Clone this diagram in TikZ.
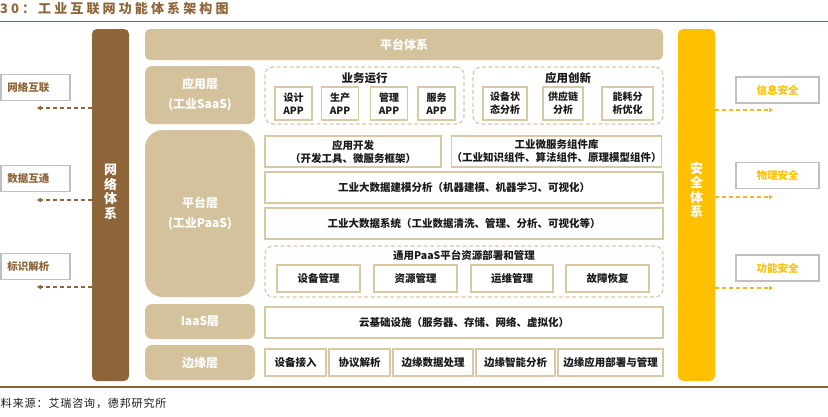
\documentclass[tikz,border=0pt]{standalone}
\usepackage{fontspec}
\setmainfont{Noto Sans CJK SC}
\usetikzlibrary{arrows.meta}
\definecolor{brn}{HTML}{8E6439}
\definecolor{tanfill}{HTML}{D4C29C}
\definecolor{tanline}{HTML}{D8C8A4}
\definecolor{ylw}{HTML}{FFC000}
\definecolor{ylwarr}{HTML}{F0B828}
\definecolor{gry}{HTML}{BFBFBF}
\definecolor{txt}{HTML}{1A1A1A}
\begin{document}
\begin{tikzpicture}[x=1pt,y=-1pt,
  every node/.style={inner sep=0pt, outer sep=0pt},
  bar/.style={rounded corners=5pt, minimum width=37pt, minimum height=352pt},
  vtext/.style={text=white, align=center, font={\fontsize{13}{14.5}\selectfont\bfseries}},
  layer/.style={fill=tanfill, rounded corners=7pt, minimum width=110pt, text=white, align=center,
     font={\fontsize{12}{20}\selectfont\bfseries}},
  ibox/.style={draw=tanline, line width=1.5pt, fill=white, text=txt, align=center,
     font={\fontsize{10.5}{13}\selectfont\bfseries}},
  appbox/.style={ibox, minimum height=33pt, font={\fontsize{10}{13}\selectfont\bfseries}},
  grp/.style={draw=tanline, line width=1.2pt, dash pattern=on 4pt off 2.5pt, rounded corners=8pt},
  gtitle/.style={text=txt, font={\fontsize{11.5}{13}\selectfont\bfseries}},
  gbox/.style={draw=gry, line width=1.5pt, fill=white, minimum height=26pt,
     font={\fontsize{10.5}{12}\selectfont\bfseries}},
  brarrow/.style={draw=brn, line width=1.2pt, dash pattern=on 4pt off 3pt,
     -{Triangle[length=4pt,width=4.5pt]}},
  ylarrow/.style={draw=ylwarr, line width=1.2pt, dash pattern=on 4pt off 3pt,
     -{Triangle[length=4pt,width=4.5pt]}}
]
\useasboundingbox (0,0) rectangle (828,416);

% title and rules
\node[anchor=west, text=brn, font={\fontsize{13}{15}\selectfont\bfseries\addfontfeatures{LetterSpace=24}}] (title) at (0,9) {30：工业互联网功能体系架构图};
\coordinate (tl1) at (0,21.5); \coordinate (tl2) at (828,21.5);
\draw[brn, line width=1.5pt] (tl1) -- (tl2);
\coordinate (bl1) at (0,387); \coordinate (bl2) at (828,387);
\draw[brn, line width=1.2pt] (bl1) -- (bl2);
\node[anchor=west, text=txt, font={\fontsize{11}{13}\selectfont\addfontfeatures{LetterSpace=8}}] (source) at (1,403) {料来源：艾瑞咨询，德邦研究所};

% side bars
\node[bar, fill=brn] (netbar) at (110.5,205) {};
\node[vtext] (nettxt) at (110.5,192) {网\\络\\体\\系};
\node[bar, fill=ylw] (secbar) at (696.5,205) {};
\node[vtext] (sectxt) at (696.5,190) {安\\全\\体\\系};

% left boxes
\node[gbox, minimum width=69pt, text=brn] (nb1) at (35.5,87.5) {\hspace*{-14pt}网络互联};
\node[gbox, minimum width=69pt, text=brn] (nb2) at (35.5,178.5) {\hspace*{-14pt}数据互通};
\node[gbox, minimum width=69pt, text=brn] (nb3) at (35.5,266.5) {\hspace*{-14pt}标识解析};
\coordinate (la1) at (37,108);
\coordinate (la2) at (37,200);
\coordinate (la3) at (37,287);
\draw[brarrow] (netbar.west |- la1) -- (la1);
\draw[brarrow] (netbar.west |- la2) -- (la2);
\draw[brarrow] (netbar.west |- la3) -- (la3);

% right boxes
\node[gbox, minimum width=83pt, text=ylw] (sb1) at (777.5,90) {信息安全};
\node[gbox, minimum width=83pt, text=ylw] (sb2) at (777.5,175.5) {物理安全};
\node[gbox, minimum width=83pt, text=ylw] (sb3) at (777.5,268) {功能安全};
\coordinate (ra1) at (773,110);
\coordinate (ra2) at (773,197);
\coordinate (ra3) at (773,288);
\draw[ylarrow] (secbar.east |- ra1) -- (ra1);
\draw[ylarrow] (secbar.east |- ra2) -- (ra2);
\draw[ylarrow] (secbar.east |- ra3) -- (ra3);

% top banner
\node[fill=tanfill, rounded corners=5pt, minimum width=518pt, minimum height=31pt, text=white,
  font={\fontsize{12}{14}\selectfont\bfseries}] (banner) at (404,44.5) {平台体系};

% layers
\node[layer, minimum height=58pt] (saas) at (200,95) {应用层\\(工业SaaS)};
\node[layer, minimum height=167pt, rounded corners=18pt] (paas) at (200,213.5) {平台层\\(工业PaaS)};
\node[layer, minimum height=35pt] (iaas) at (200,321.5) {IaaS层};
\node[layer, minimum height=35pt] (edge) at (200,362.5) {边缘层};

% SaaS content
\node[grp, minimum width=199pt, minimum height=57pt] (g1) at (364.5,95.5) {};
\node[gtitle] (g1t) at (364.5,78) {业务运行};
\node[appbox, minimum width=37pt] (a1) at (293.5,103.5) {设计\\APP};
\node[appbox, minimum width=37pt] (a2) at (340,103.5) {生产\\APP};
\node[appbox, minimum width=37pt] (a3) at (389,103.5) {管理\\APP};
\node[appbox, minimum width=37pt] (a4) at (436.5,103.5) {服务\\APP};

\node[grp, minimum width=190pt, minimum height=57pt] (g2) at (568,95.5) {};
\node[gtitle] (g2t) at (568,78) {应用创新};
\node[appbox, minimum width=44pt] (c1) at (505,103.5) {设备状\\态分析};
\node[appbox, minimum width=40pt] (c2) at (563,103.5) {供应链\\分析};
\node[appbox, minimum width=51pt] (c3) at (627.5,103.5) {能耗分\\析优化};

% PaaS content
\node[ibox, minimum width=176pt, minimum height=31pt] (dev) at (353,151.5) {应用开发\\（开发工具、微服务框架）};
\node[ibox, minimum width=207pt, minimum height=31pt] (micro) at (556.5,151.5) {工业微服务组件库\\（工业知识组件、算法组件、原理模型组件）};
\node[ibox, minimum width=398pt, minimum height=31pt] (model) at (464,187.5) {工业大数据建模分析（机器建模、机器学习、可视化）};
\node[ibox, minimum width=398pt, minimum height=31pt] (sys) at (464,223.5) {工业大数据系统（工业数据清洗、管理、分析、可视化等）};
\node[grp, minimum width=398pt, minimum height=51pt] (g3) at (464,271.5) {};
\node[gtitle, font={\fontsize{10.5}{12}\selectfont\bfseries}] (g3t) at (464,255) {通用PaaS平台资源部署和管理};
\node[ibox, minimum width=83pt, minimum height=27pt] (p1) at (318.5,278.5) {设备管理};
\node[ibox, minimum width=83pt, minimum height=27pt] (p2) at (415.5,278.5) {资源管理};
\node[ibox, minimum width=82pt, minimum height=27pt] (p3) at (512,278.5) {运维管理};
\node[ibox, minimum width=83pt, minimum height=27pt] (p4) at (607.5,278.5) {故障恢复};

% IaaS
\node[ibox, minimum width=398pt, minimum height=31pt] (cloud) at (464,322.5) {云基础设施（服务器、存储、网络、虚拟化）};

% Edge
\node[ibox, minimum width=61pt, minimum height=27pt] (e1) at (295.5,362.5) {设备接入};
\node[ibox, minimum width=61pt, minimum height=27pt] (e2) at (359.5,362.5) {协议解析};
\node[ibox, minimum width=80pt, minimum height=27pt] (e3) at (433,362.5) {边缘数据处理};
\node[ibox, minimum width=79pt, minimum height=27pt] (e4) at (515.5,362.5) {边缘智能分析};
\node[ibox, minimum width=105pt, minimum height=27pt] (e5) at (610.5,362.5) {边缘应用部署与管理};
\end{tikzpicture}
\end{document}
